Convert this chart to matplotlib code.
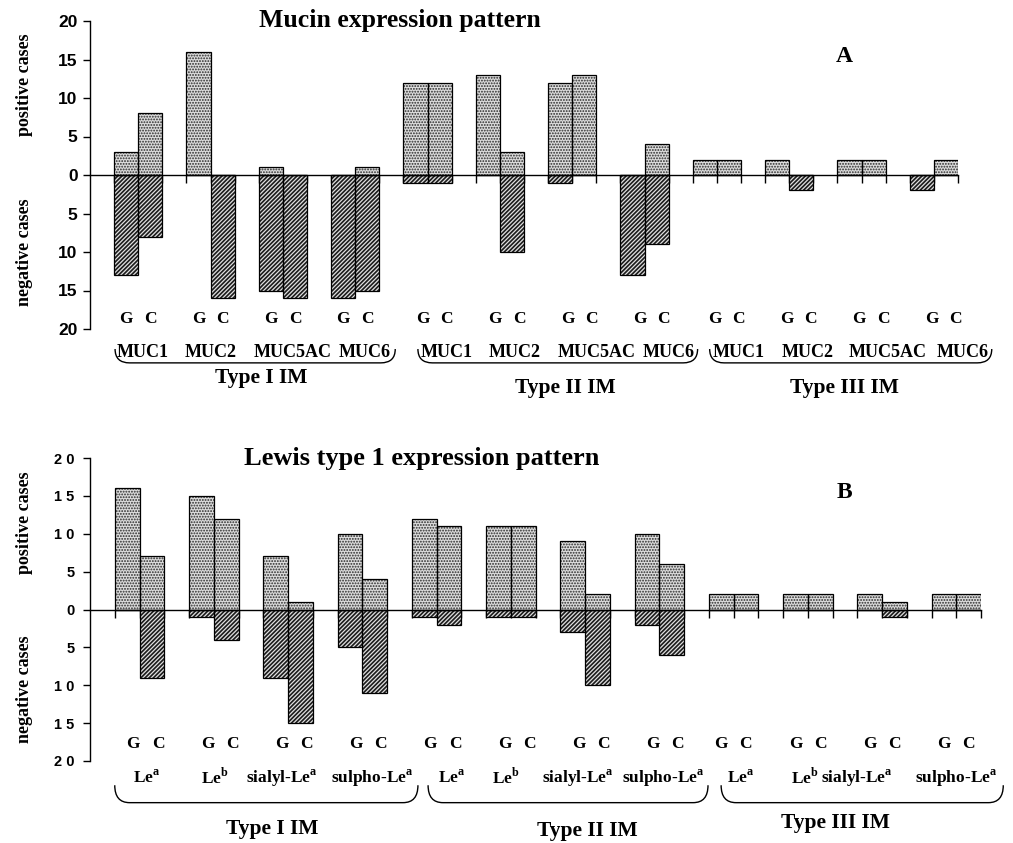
import numpy as np
import matplotlib.pyplot as plt
from matplotlib.path import Path
from matplotlib.patches import PathPatch
from matplotlib import transforms

plt.rcParams['mathtext.fontset'] = 'custom'
plt.rcParams['mathtext.rm'] = 'Liberation Serif'
plt.rcParams['mathtext.bf'] = 'Liberation Serif:bold'
plt.rcParams['hatch.linewidth'] = 0.9

SERIF = 'Liberation Serif'

groups = ['Type I IM', 'Type II IM', 'Type III IM']
mucins = ['MUC1', 'MUC2', 'MUC5AC', 'MUC6']
lewis = ['Le$^{\\mathbf{a}}$', 'Le$^{\\mathbf{b}}$',
         'sialyl-Le$^{\\mathbf{a}}$', 'sulpho-Le$^{\\mathbf{a}}$']

# order: Type I (4 markers), Type II, Type III ; G = gastric, C = colonic
muc_pos_G = [3, 16, 1, 0,   12, 13, 12, 0,   2, 2, 2, 0]
muc_pos_C = [8, 0, 0, 1,    12, 3, 13, 4,    2, 0, 2, 2]
muc_neg_G = [13, 0, 15, 16, 1, 0, 1, 13,     0, 0, 0, 2]
muc_neg_C = [8, 16, 16, 15, 1, 10, 0, 9,     0, 2, 0, 0]

lew_pos_G = [16, 15, 7, 10, 12, 11, 9, 10,   2, 2, 2, 2]
lew_pos_C = [7, 12, 1, 4,   11, 11, 2, 6,    2, 2, 1, 2]
lew_neg_G = [0, 1, 9, 5,    1, 1, 3, 2,      0, 0, 0, 0]
lew_neg_C = [9, 4, 15, 11,  2, 1, 10, 6,     0, 0, 1, 0]

W, H = 1013, 843
fig = plt.figure(figsize=(W / 100, H / 100), dpi=100)


def brace(ax, x0, x1, ytop, ybot, r):
    verts = [(x0, ytop), (x0, ybot), (x0 + r, ybot), (x1 - r, ybot),
             (x1, ybot), (x1, ytop)]
    codes = [Path.MOVETO, Path.CURVE3, Path.CURVE3, Path.LINETO,
             Path.CURVE3, Path.CURVE3]
    ax.add_patch(PathPatch(Path(verts, codes), fill=False, lw=1.0,
                           color='black', clip_on=False))


def panel(box, pos_G, pos_C, neg_G, neg_C, names, lay):
    ax = fig.add_axes(box)
    n = len(pos_G)
    k = np.arange(n)
    xg = 1 + 3 * k
    xc = 2 + 3 * k
    pos = dict(facecolor='#dcdcdc', edgecolor='#2a2a2a', hatch='......', lw=0)
    neg = dict(facecolor='#1c1c1c', edgecolor='#e0e0e0', hatch='////////', lw=0)
    for xs, p, q in [(xg, pos_G, neg_G), (xc, pos_C, neg_C)]:
        p = np.array(p)
        q = -np.array(q)
        ax.bar(xs, p, width=1, align='edge', zorder=1, **pos)
        ax.bar(xs, q, width=1, align='edge', zorder=1, **neg)
        ax.bar(xs, p, width=1, align='edge', zorder=1.2, facecolor='none',
               edgecolor='black', lw=0.9)
        ax.bar(xs, q, width=1, align='edge', zorder=1.2, facecolor='none',
               edgecolor='black', lw=0.9)

    ax.set_xlim(0, 36)
    ax.set_ylim(-20, 20)
    ax.set_axisbelow(True)
    for s in ['top', 'right']:
        ax.spines[s].set_visible(False)
    ax.spines['bottom'].set_position(('data', 0))
    ax.spines['bottom'].set_linewidth(1.0)
    ax.spines['left'].set_linewidth(1.0)
    ax.set_xticks(np.arange(1, 37))
    ax.set_xticklabels([])
    ax.tick_params(axis='x', direction='out', length=6, width=1.0)
    yt = np.arange(-20, 21, 5)
    ax.set_yticks(yt)
    ax.set_yticklabels([lay['yfmt'](abs(v)) for v in yt],
                       fontfamily='Liberation Sans', fontweight='bold',
                       fontsize=lay['ytsize'])
    ax.tick_params(axis='y', direction='out', length=5, width=1.0, pad=lay['ypad'])

    # G / C labels under each bar, marker names under each pair
    for i in range(n):
        d = lay['gc_dx'][i // 4]
        ax.text(xg[i] + 0.5 + d, lay['gc_y'], 'G', ha='center', va='baseline',
                fontfamily=SERIF, fontweight='bold', fontsize=12.5, clip_on=False)
        ax.text(xc[i] + 0.5 + d, lay['gc_y'], 'C', ha='center', va='baseline',
                fontfamily=SERIF, fontweight='bold', fontsize=12.5, clip_on=False)
        ax.text(xc[i] + lay['name_dx'][i], lay['name_y'], names[i % 4],
                ha='center', va='baseline', fontfamily=SERIF,
                fontweight='bold', fontsize=lay['name_size'], clip_on=False)

    for g, name in enumerate(groups):
        x0, x1 = lay['brace_x'][g]
        brace(ax, x0, x1, lay['brace_top'], lay['brace_bot'], 0.6)
        ax.text(lay['grp_x'][g], lay['grp_y'][g], name, ha='center',
                va='baseline', fontfamily=SERIF, fontweight='bold',
                fontsize=15.5, clip_on=False)

    ax.text(lay['title_x'], lay['title_y'], lay['title'], ha='center',
            va='baseline', fontfamily=SERIF, fontweight='bold',
            fontsize=lay['title_size'], clip_on=False)
    ax.text(lay['tag_x'], 14.7, lay['tag'], ha='center', va='baseline',
            fontfamily=SERIF, fontweight='bold', fontsize=17)

    tr = transforms.blended_transform_factory(ax.transAxes, ax.transData)
    ax.text(lay['ylab_x'], lay['ylab_y'][0], 'positive cases', transform=tr,
            rotation=90, ha='center', va='center', fontfamily=SERIF,
            fontweight='bold', fontsize=13)
    ax.text(lay['ylab_x'], lay['ylab_y'][1], 'negative cases', transform=tr,
            rotation=90, ha='center', va='center', fontfamily=SERIF,
            fontweight='bold', fontsize=13)
    return ax


lay_A = dict(
    yfmt=lambda v: str(v), ytsize=12.5, ypad=4,
    gc_dx=[0.0, 0.3, 0.4], gc_y=-19.2,
    name_dx=[0.2, 0.0, 0.4, 0.4, 0.8, 0.6, 1.0, 1.0, 0.9, 0.75, 1.1, 1.2],
    name_y=-23.6, name_size=13,
    brace_x=[(1.04, 12.66), (13.6, 25.2), (25.7, 37.4)],
    brace_top=-22.6, brace_bot=-24.4,
    grp_x=[7.1, 19.7, 31.3], grp_y=[-27.0, -28.3, -28.3],
    title='Mucin expression pattern', title_x=12.86, title_y=19.2, title_size=18.5,
    tag='A', tag_x=31.3,
    ylab_x=-0.075, ylab_y=[11.7, -10.0],
)

lay_B = dict(
    yfmt=lambda v: ' '.join(str(v)), ytsize=10.5, ypad=6,
    gc_dx=[0.25, 0.25, 0.0], gc_y=-18.3,
    name_dx=[0.3, 0.05, -0.24, 0.4, 0.6, -0.2, -0.3, 0.15, 0.3, -0.1, -1.0, 0.0],
    name_y=-22.9, name_size=12.5,
    brace_x=[(1.0, 13.25), (13.66, 24.97), (25.5, 36.9)],
    brace_top=-23.2, brace_bot=-25.5,
    grp_x=[7.35, 20.1, 30.1], grp_y=[-29.6, -29.9, -28.9],
    title='Lewis type 1 expression pattern', title_x=13.4, title_y=19.1,
    title_size=19,
    tag='B', tag_x=30.5,
    ylab_x=-0.073, ylab_y=[11.4, -10.5],
)

panel([90 / W, (H - 329) / H, (958 - 90) / W, (329 - 21) / H],
      muc_pos_G, muc_pos_C, muc_neg_G, muc_neg_C, mucins, lay_A)
panel([90 / W, (H - 761) / H, (981 - 90) / W, (761 - 458) / H],
      lew_pos_G, lew_pos_C, lew_neg_G, lew_neg_C, lewis, lay_B)

fig.savefig('out.png', dpi=100)
